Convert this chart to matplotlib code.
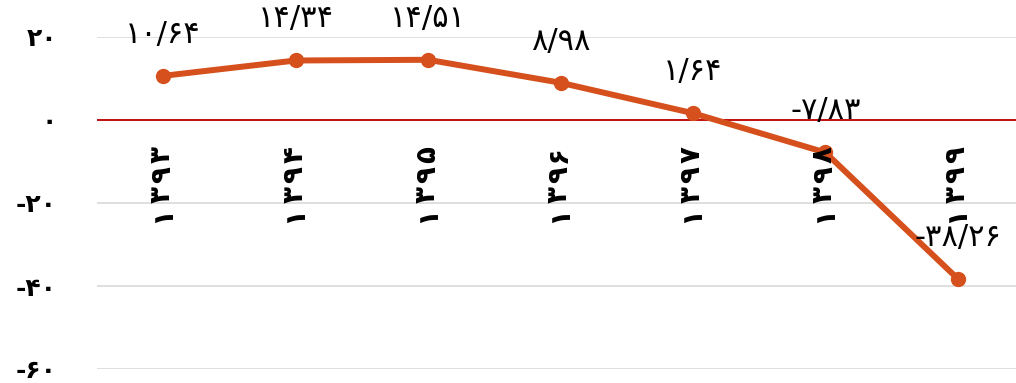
import numpy as np
import matplotlib.pyplot as plt

# data
years = ['۱۳۹۳', '۱۳۹۴', '۱۳۹۵', '۱۳۹۶', '۱۳۹۷', '۱۳۹۸', '۱۳۹۹']
values = [10.64, 14.34, 14.51, 8.98, 1.64, -7.83, -38.26]
value_labels = ['۱۰/۶۴', '۱۴/۳۴', '۱۴/۵۱', '۸/۹۸', '۱/۶۴', '-۷/۸۳', '-۳۸/۲۶']
yticks = [20, 0, -20, -40, -60]
ytick_labels = ['۲۰', '۰', '-۲۰', '-۴۰', '-۶۰']

plt.rcParams['font.family'] = ['DejaVu Sans']

fig = plt.figure(figsize=(10.16, 3.83), dpi=100)
ax = fig.add_axes([97 / 1016, 14 / 383, 927 / 1016, 332 / 383])

x = np.arange(len(years))
ax.plot(x, values, color='#D5501C', linewidth=4.3, marker='o', markersize=10,
        zorder=3, clip_on=False)

# data labels above points
for xi, v, lab in zip(x, values, value_labels):
    ax.annotate(lab, (xi, v), xytext=(0, 30), textcoords='offset points',
                ha='center', va='center', fontsize=22, color='black',
                annotation_clip=False)

# zero line
ax.axhline(0, color='#C00000', linewidth=1.3, zorder=2)

ax.set_xlim(-0.5, 6.5)
ax.set_ylim(-60, 20)
ax.set_yticks(yticks)
ax.set_yticklabels(ytick_labels, fontsize=18, fontweight='bold')
ax.grid(axis='y', color='#D9D9D9', linewidth=1.2)
ax.set_axisbelow(True)

for s in ['top', 'right', 'left', 'bottom']:
    ax.spines[s].set_visible(False)
ax.set_xticks([])
ax.tick_params(axis='y', length=0, pad=29)

# category labels: digits stacked under the zero line, each turned 90 degrees
for xi, year in zip(x, years):
    for k, ch in enumerate(reversed(year)):
        ax.annotate(ch, (xi, 0), xytext=(-1, -25 - 14.4 * k),
                    textcoords='offset points', ha='center', va='center',
                    rotation=90, fontsize=20, fontweight='bold')

fig.savefig('out.png', dpi=100)
